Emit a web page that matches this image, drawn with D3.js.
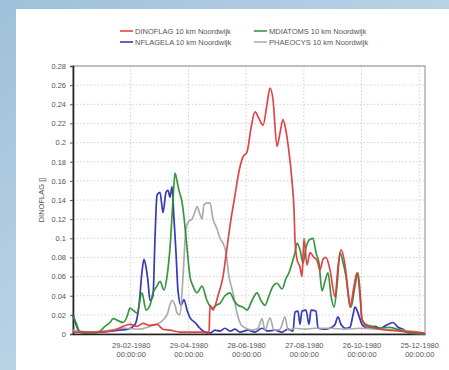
<!DOCTYPE html>
<html><head><meta charset="utf-8">
<script src="https://cdn.jsdelivr.net/npm/d3@7/dist/d3.min.js"></script>
<style>
html,body{margin:0;padding:0;background:#a9c7df;}
svg{display:block;font-family:"Liberation Sans",Arial,sans-serif;}
</style></head><body>
<svg id="c" width="449" height="370"></svg>
<script>
// ---- data (x positions read as days since 31-12-1979) ----
const tickDays = [60, 120, 180, 240, 300, 360];
const tickLabels = [["29-02-1980","00:00:00"],["29-04-1980","00:00:00"],["28-06-1980","00:00:00"],["27-08-1980","00:00:00"],["26-10-1980","00:00:00"],["25-12-1980","00:00:00"]];
const yTicks = [0,0.02,0.04,0.06,0.08,0.1,0.12,0.14,0.16,0.18,0.2,0.22,0.24,0.26,0.28];
const seriesNames = ["DINOFLAG 10 km Noordwijk","MDIATOMS 10 km Noordwijk","NFLAGELA 10 km Noordwijk","PHAEOCYS 10 km Noordwijk"];

const dinoX = [73,100,115,123,130,137,143,150,157,163,170,180,195,208,209,210,213,218,223,227,231,235,239,243,247,251,255,259,263,267,270,273,277,280,283,286,289,292,294,295,297,300,302,304,307,310,314,317,320,323,326,330,335,338,341,345,348,350,354,357,360,362,367,380,400,425];
const dinoV = [0.002,0.002,0.004,0.008,0.01,0.008,0.011,0.009,0.01,0.005,0.004,0.002,0.002,0.002,0.0,0.03,0.025,0.04,0.06,0.09,0.12,0.145,0.17,0.185,0.19,0.215,0.232,0.225,0.218,0.24,0.257,0.245,0.196,0.21,0.224,0.212,0.19,0.16,0.13,0.098,0.078,0.07,0.06,0.1,0.072,0.085,0.08,0.077,0.067,0.078,0.08,0.067,0.039,0.07,0.088,0.072,0.045,0.028,0.05,0.064,0.04,0.015,0.008,0.005,0.003,0.001];

const diatX = [73,76,80,95,100,105,110,113,118,123,127,130,134,137,142,146,150,153,157,160,164,167,170,173,175,177,179,182,185,187,190,193,197,202,207,212,216,220,225,230,234,238,243,247,252,257,261,265,269,273,277,282,286,289,292,295,297,300,303,306,309,313,316,319,322,325,328,331,334,337,340,343,346,349,351,355,358,360,362,366,372,380,390,400,410,425];
const diatV = [0.018,0.012,0.002,0.001,0.003,0.008,0.012,0.016,0.014,0.012,0.018,0.027,0.024,0.022,0.043,0.025,0.03,0.043,0.05,0.055,0.046,0.06,0.09,0.14,0.168,0.16,0.15,0.138,0.112,0.09,0.06,0.05,0.043,0.05,0.035,0.027,0.03,0.032,0.04,0.043,0.035,0.03,0.028,0.025,0.035,0.043,0.035,0.03,0.04,0.05,0.053,0.047,0.058,0.064,0.074,0.085,0.095,0.088,0.074,0.09,0.098,0.1,0.085,0.074,0.045,0.055,0.064,0.04,0.028,0.05,0.085,0.075,0.06,0.035,0.028,0.05,0.064,0.045,0.015,0.01,0.008,0.006,0.007,0.004,0.001,0.0];

const flagX = [73,76,80,90,100,110,120,128,135,139,142,144,146,148,150,153,155,157,160,163,166,168,170,172,174,176,178,181,184,187,190,195,200,205,210,215,220,225,230,235,240,248,255,262,268,275,282,288,293,295,298,300,302,306,309,311,316,318,325,330,335,338,341,346,350,353,355,358,362,368,375,380,386,393,398,403,410,425];
const flagV = [0.02,0.01,0.002,0.001,0.002,0.003,0.004,0.005,0.01,0.03,0.065,0.078,0.07,0.055,0.035,0.04,0.1,0.145,0.148,0.127,0.148,0.15,0.143,0.154,0.12,0.085,0.045,0.03,0.036,0.025,0.017,0.012,0.006,0.002,0.001,0.004,0.003,0.006,0.003,0.005,0.002,0.004,0.002,0.006,0.003,0.004,0.002,0.005,0.003,0.023,0.024,0.01,0.024,0.025,0.01,0.025,0.024,0.006,0.005,0.006,0.01,0.018,0.01,0.006,0.007,0.02,0.028,0.022,0.01,0.006,0.008,0.006,0.009,0.012,0.007,0.005,0.001,0.0];

const phaeoX = [73,90,110,125,140,150,160,167,172,175,177,180,183,186,189,192,195,197,200,202,204,207,210,213,217,220,223,226,229,233,237,241,246,252,258,262,265,270,274,280,285,288,295,305,315,330,345,360,380,400,425];
const phaeoV = [0.004,0.002,0.004,0.006,0.005,0.008,0.012,0.02,0.035,0.03,0.022,0.02,0.06,0.11,0.118,0.12,0.128,0.133,0.125,0.12,0.135,0.137,0.137,0.12,0.11,0.1,0.095,0.085,0.06,0.043,0.022,0.01,0.006,0.004,0.006,0.016,0.004,0.017,0.004,0.005,0.018,0.004,0.006,0.005,0.006,0.006,0.005,0.006,0.005,0.004,0.001];

// ---- layout ----
const svg = d3.select("#c");
const L = 73, R = 425, T = 66, B = 334;
const pxPerDay = (R - L) / 366;
const dayOf = px => (px - L) / pxPerDay;   // convert read positions to days
const x = d3.scaleLinear().domain([0, 366]).range([L, R]);
const y = d3.scaleLinear().domain([0, 0.28]).range([B, T]);
const FS = "7.5px";

// background
const defs = svg.append("defs");
const g1 = defs.append("linearGradient").attr("id","bg").attr("x1","0").attr("y1","0").attr("x2","1").attr("y2","1");
g1.append("stop").attr("offset","0").attr("stop-color","#9fc0da");
g1.append("stop").attr("offset","0.5").attr("stop-color","#b8d2e6");
g1.append("stop").attr("offset","1").attr("stop-color","#a4c4dd");
svg.append("rect").attr("width",449).attr("height",370).attr("fill","url(#bg)");
svg.append("rect").attr("x",16).attr("y",9).attr("width",433).attr("height",361).attr("fill","#ffffff");

// grid
const grid = svg.append("g");
grid.selectAll("line.h").data(yTicks.slice(1)).join("line")
  .attr("x1",L).attr("x2",R).attr("y1",d=>y(d)).attr("y2",d=>y(d))
  .attr("stroke","#c4c4c4").attr("stroke-width",0.8).attr("stroke-dasharray","1.5,2");
grid.selectAll("line.v").data(tickDays).join("line")
  .attr("x1",d=>x(d)).attr("x2",d=>x(d)).attr("y1",T).attr("y2",B)
  .attr("stroke","#c4c4c4").attr("stroke-width",0.8).attr("stroke-dasharray","1.5,2");

// frame
svg.append("rect").attr("x",L).attr("y",T).attr("width",R-L).attr("height",B-T)
  .attr("fill","none").attr("stroke","#8a8a8a").attr("stroke-width",1);

// axes
const yAxis = d3.axisLeft(y).tickValues(yTicks).tickSize(3).tickFormat(d=>d3.format("")(+d.toFixed(2)));
const ya = svg.append("g").attr("transform",`translate(${L},0)`).call(yAxis);
ya.select(".domain").attr("stroke","#222").attr("stroke-width",1.6);
ya.selectAll(".tick line").attr("stroke","#555");
ya.selectAll("text").attr("fill","#555").attr("font-size",FS).attr("dx","-1");

const xAxis = d3.axisBottom(x).tickValues(tickDays).tickSize(0).tickFormat("");
const xa = svg.append("g").attr("transform",`translate(0,${B})`).call(xAxis);
xa.select(".domain").attr("stroke","#222").attr("stroke-width",1.6);
xa.selectAll(".tick").each(function(d,i){
  const t = d3.select(this).append("text").attr("fill","#555").attr("font-size",FS).attr("text-anchor","middle");
  t.append("tspan").attr("x",0).attr("y",14).text(tickLabels[i][0]);
  t.append("tspan").attr("x",0).attr("y",23).text(tickLabels[i][1]);
});

svg.append("text").attr("transform",`translate(44,${(T+B)/2}) rotate(-90)`)
  .attr("text-anchor","middle").attr("font-size",FS).attr("fill","#555").text("DINOFLAG []");

// series
const series = [
  {name:seriesNames[2], xs:flagX, vs:flagV, color:"#2b2fb0"},
  {name:seriesNames[3], xs:phaeoX, vs:phaeoV, color:"#a8a8a8"},
  {name:seriesNames[1], xs:diatX, vs:diatV, color:"#2f8f35"},
  {name:seriesNames[0], xs:dinoX, vs:dinoV, color:"#de3b3b"}
];
const line = d3.line().x(d=>x(d[0])).y(d=>y(d[1])).curve(d3.curveMonotoneX);
const plot = svg.append("g");
series.forEach(s=>{
  const pts = s.xs.map((px,i)=>[dayOf(px), s.vs[i]]);
  plot.append("path").attr("d",line(pts)).attr("fill","none")
    .attr("stroke",s.color).attr("stroke-width",1.7).attr("stroke-linejoin","round").attr("opacity",0.95);
});

// legend
const legendItems = [
  {name:seriesNames[0], color:"#de3b3b", lx:120, ly:31},
  {name:seriesNames[1], color:"#2f8f35", lx:254, ly:31},
  {name:seriesNames[2], color:"#2b2fb0", lx:120, ly:42},
  {name:seriesNames[3], color:"#a8a8a8", lx:254, ly:42}
];
const lg = svg.append("g");
legendItems.forEach(it=>{
  lg.append("line").attr("x1",it.lx).attr("x2",it.lx+13).attr("y1",it.ly).attr("y2",it.ly)
    .attr("stroke",it.color).attr("stroke-width",1.5);
  lg.append("text").attr("x",it.lx+15).attr("y",it.ly+2.6).attr("font-size",FS).attr("fill","#555").text(it.name);
});
</script>
</body></html>
